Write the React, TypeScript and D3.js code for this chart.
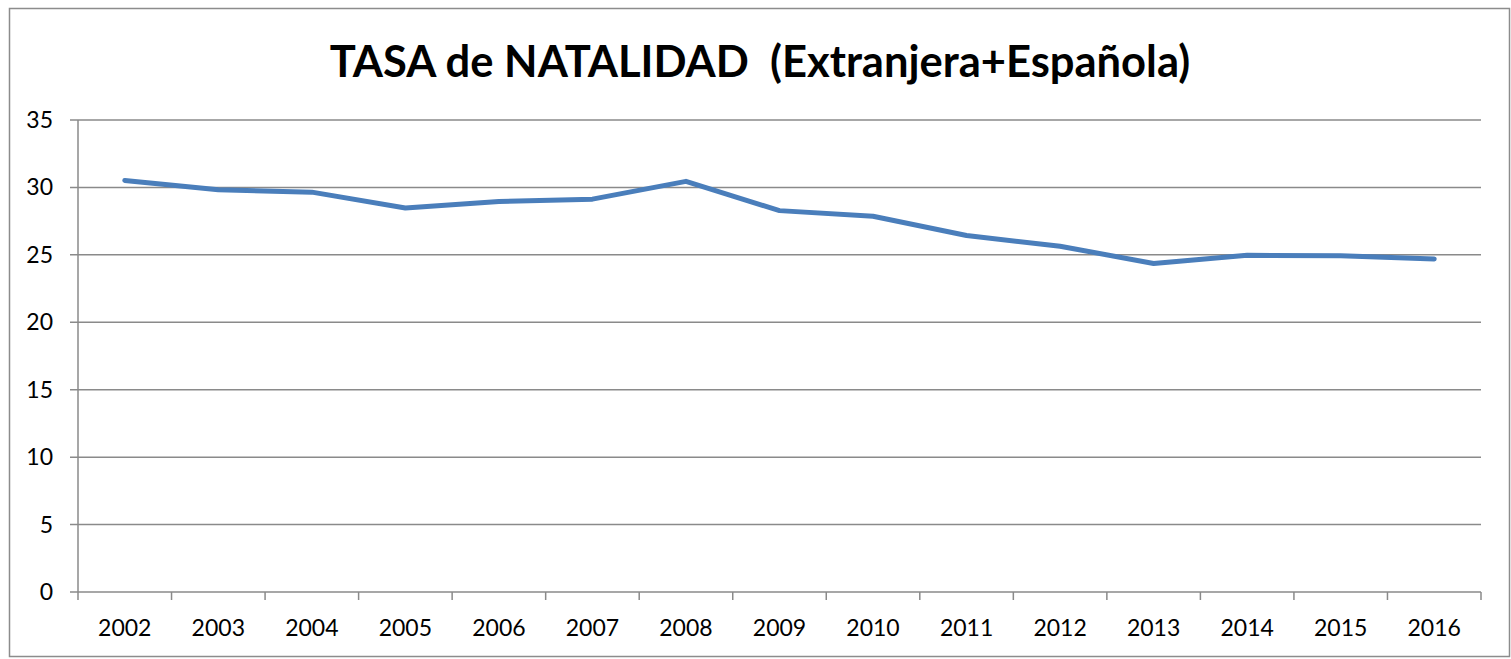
import React, { useEffect, useRef } from 'react';
import * as d3 from 'd3';

const years = ['2002', '2003', '2004', '2005', '2006', '2007', '2008', '2009', '2010', '2011', '2012', '2013', '2014', '2015', '2016'];
const tasa = [30.52, 29.83, 29.65, 28.47, 28.96, 29.13, 30.45, 28.28, 27.86, 26.43, 25.64, 24.36, 24.97, 24.93, 24.7];
const yTicks = [0, 5, 10, 15, 20, 25, 30, 35];

const W = 1511;
const H = 659;

const App = () => {
  const svgRef = useRef<SVGSVGElement | null>(null);

  useEffect(() => {
    if (!svgRef.current) return;
    const svg = d3.select(svgRef.current);
    svg.selectAll('*').remove();

    const font = 'Lato, "Open Sans", sans-serif';
    const margin = { top: 120, right: 30, bottom: 67, left: 78 };
    const plotW = W - margin.left - margin.right;
    const plotH = H - margin.top - margin.bottom;

    // outer chart border
    svg.append('rect')
      .attr('x', 9.5).attr('y', 8.5)
      .attr('width', 1500).attr('height', 648)
      .attr('fill', '#fff')
      .attr('stroke', '#8c8c8c')
      .attr('stroke-width', 1.5);

    svg.append('text')
      .attr('x', 760).attr('y', 77)
      .attr('text-anchor', 'middle')
      .attr('font-family', font)
      .attr('font-weight', 'bold')
      .attr('font-size', 43.5)
      .attr('fill', '#000')
      .attr('xml:space', 'preserve')
      .text('TASA de NATALIDAD  (Extranjera+Española)');

    const g = svg.append('g').attr('transform', `translate(${margin.left},${margin.top})`);

    const x = d3.scaleBand().domain(years).range([0, plotW]);
    const y = d3.scaleLinear().domain([0, 35]).range([plotH, 0]);

    // horizontal gridlines
    g.append('g')
      .selectAll('line')
      .data(yTicks)
      .join('line')
      .attr('x1', -8).attr('x2', plotW)
      .attr('y1', d => y(d)).attr('y2', d => y(d))
      .attr('stroke', '#8a8a8a')
      .attr('stroke-width', 1.5);

    // left axis line
    g.append('line')
      .attr('x1', 0).attr('x2', 0)
      .attr('y1', 0).attr('y2', plotH)
      .attr('stroke', '#8a8a8a')
      .attr('stroke-width', 1.5);

    // y labels
    g.append('g')
      .selectAll('text')
      .data(yTicks)
      .join('text')
      .attr('x', -25).attr('y', d => y(d))
      .attr('dy', '0.35em')
      .attr('text-anchor', 'end')
      .attr('font-family', font)
      .attr('font-size', 23)
      .attr('fill', '#000')
      .text(d => d);

    // x tick marks at category boundaries
    const bounds = years.map(d => x(d) as number).concat([plotW]);
    g.append('g')
      .selectAll('line')
      .data(bounds)
      .join('line')
      .attr('x1', d => d).attr('x2', d => d)
      .attr('y1', plotH).attr('y2', plotH + 8)
      .attr('stroke', '#8a8a8a')
      .attr('stroke-width', 1.5);

    // x labels
    g.append('g')
      .selectAll('text')
      .data(years)
      .join('text')
      .attr('x', d => (x(d) as number) + x.bandwidth() / 2)
      .attr('y', plotH + 36)
      .attr('dy', '0.35em')
      .attr('text-anchor', 'middle')
      .attr('font-family', font)
      .attr('font-size', 23)
      .attr('fill', '#000')
      .text(d => d);

    const line = d3.line<number>()
      .x((_, i) => (x(years[i]) as number) + x.bandwidth() / 2)
      .y(d => y(d));

    g.append('path')
      .datum(tasa)
      .attr('d', line)
      .attr('fill', 'none')
      .attr('stroke', '#4a7ebb')
      .attr('stroke-width', 5)
      .attr('stroke-linecap', 'round')
      .attr('stroke-linejoin', 'round');
  }, []);

  return (
    <svg ref={svgRef} width={W} height={H} style={{ position: 'absolute', left: 0, top: 0, display: 'block' }}></svg>
  );
};

export default App;
